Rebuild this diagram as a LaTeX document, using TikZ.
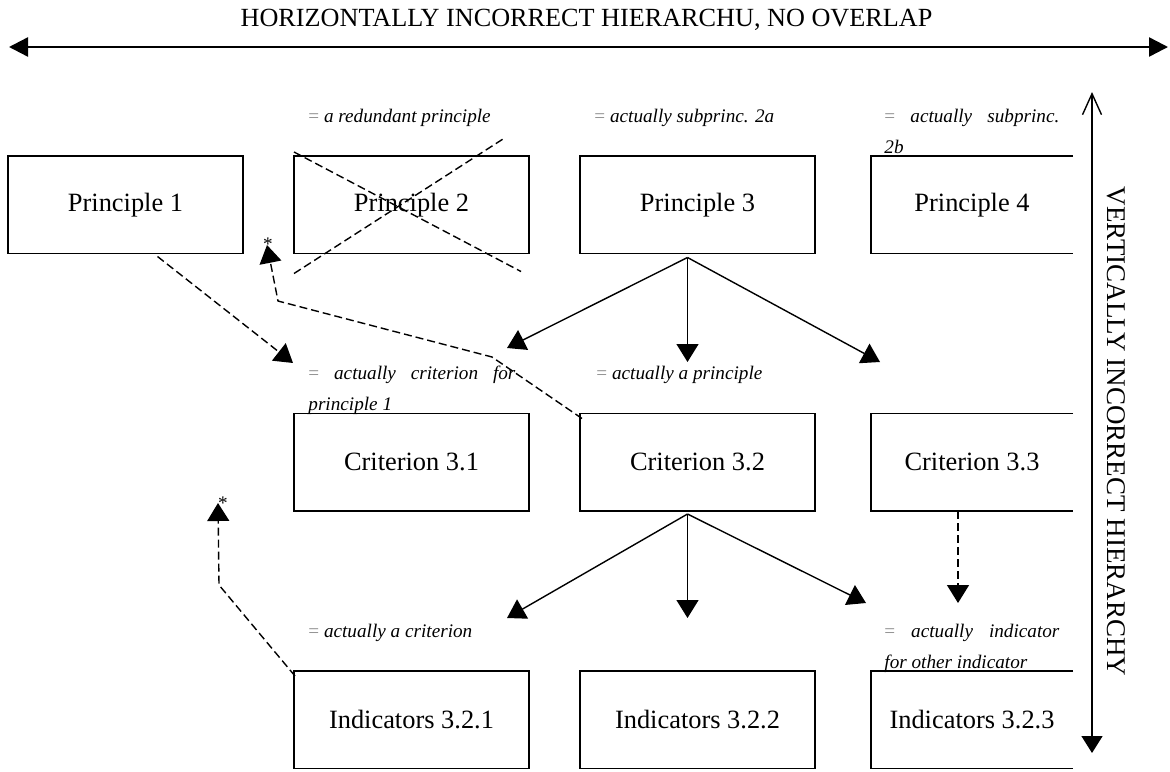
\documentclass[tikz,border=0pt]{standalone}
\usepackage{fontspec}
\setmainfont{Liberation Serif}
\usetikzlibrary{arrows.meta}
\usetikzlibrary{positioning}

\newcommand{\noteeq}{{\upshape\color{black!45}=}}

\begin{document}
\begin{tikzpicture}[x=0.5pt,y=-0.5pt,>={Triangle[length=9pt,width=11pt]},
  node distance=80pt and 25.5pt,
  box/.style={draw,line width=0.9pt,minimum width=117.5pt,minimum height=48.75pt,
    inner sep=0pt,outer sep=0pt,font=\fontsize{13.2}{15}\selectfont},
  openbox/.style={box,draw=none,minimum width=101pt},
  boxline/.style={line width=0.9pt},
  note/.style={anchor=base west,inner sep=0pt,text width=103.5pt,align=justify,
    font=\fontsize{9.6}{15.5}\selectfont\itshape,
    execute at begin node={\hyphenpenalty=10000\exhyphenpenalty=10000\tolerance=10000}},
  solidarrow/.style={->,line width=0.7pt},
  dasharrow/.style={solidarrow,dash pattern=on 4pt off 2pt},
  crossline/.style={line width=0.7pt,dash pattern=on 4pt off 2pt},
  starlabel/.style={anchor=base,inner sep=0pt,font=\fontsize{9.6}{10}\selectfont}]

  \useasboundingbox (0,0) rectangle (1170,771);

  % boxes
  \node[box] (p1) at (125.5,204.75) {Principle 1};
  \node[box] (p2) [right=of p1] {Principle 2};
  \node[box] (p3) [right=of p2] {Principle 3};
  \node[openbox] (p4) [right=28pt of p3] {Principle 4};
  \node[box] (c31) [below=of p2] {Criterion 3.1};
  \node[box] (c32) [below=of p3] {Criterion 3.2};
  \node[openbox] (c33) [right=28pt of c32] {Criterion 3.3};
  \node[box] (i321) [below=of c31] {Indicators 3.2.1};
  \node[box] (i322) [below=of c32] {Indicators 3.2.2};
  \node[openbox] (i323) [right=28pt of i322] {Indicators 3.2.3};

  \draw[boxline] (p4.north east) -- (p4.north west) -- (p4.south west) -- (p4.south east);
  \draw[boxline] (c33.north east) -- (c33.north west) -- (c33.south west) -- (c33.south east);
  \draw[boxline] (i323.north east) -- (i323.north west) -- (i323.south west) -- (i323.south east);

  % notes
  \node[note] (n2) at ([shift={(14,-34)}]p2.north west) {\noteeq{} a redundant principle};
  \node[note] (n3) at ([shift={(14,-34)}]p3.north west) {\noteeq{} actually subprinc. 2a};
  \node[note,text width=87.5pt] (n4) at ([shift={(13,-34)}]p4.north west) {\noteeq{} actually subprinc. 2b};
  \node[note] (n31) at ([shift={(14,-34)}]c31.north west) {\noteeq{} actually criterion for principle 1};
  \node[note] (n32) at ([shift={(16,-34)}]c32.north west) {\noteeq{} actually a principle};
  \node[note] (n321) at ([shift={(14,-34)}]i321.north west) {\noteeq{} actually a criterion};
  \node[note,text width=87.5pt] (n323) at ([shift={(13,-34)}]i323.north west) {\noteeq{} actually indicator for other indicator};

  % principle 2 crossed out
  \draw[crossline] ([yshift=2pt]p2.north west) -- ([shift={(-8,18)}]p2.south east);
  \draw[crossline] ([yshift=-10pt]p2.south west) -- ([shift={(-26,-17)}]p2.north east);

  % arrow ends
  \coordinate (p3o) at ([shift={(-10,4)}]p3.south);
  \coordinate (c32o) at ([shift={(-10,3)}]c32.south);
  \coordinate (t1) at (507,348);
  \coordinate (t2) at (687.5,362);
  \coordinate (t3) at (880,362);
  \coordinate (t4) at (507,618);
  \coordinate (t5) at (687.5,618);
  \coordinate (t6) at (866,603);
  \coordinate (t7) at (958,603);
  \coordinate (t8) at (293,363);
  \coordinate (s1) at (267,245);
  \coordinate (s2) at (218,503);

  \path[solidarrow]
    (p3o) edge (t1)
          edge (t2)
          edge (t3)
    (c32o) edge (t4)
           edge (t5)
           edge (t6);

  \draw[dasharrow] ([shift={(32,3)}]p1.south) -- (t8);
  \draw[dasharrow] ([shift={(2,5)}]c32.north west) -- (492,357) -- (278,301) -- (s1);
  \draw[dasharrow] ([shift={(1,5)}]i321.north west) -- (219,585) -- (s2);
  \draw[dasharrow] ([xshift=-7pt]c33.south) -- (t7);

  \node[starlabel] (a1) at ([shift={(1,5)}]s1) {*};
  \node[starlabel] (a2) at ([shift={(5,6)}]s2) {*};

  % hierarchy axes
  \coordinate (hl) at (9,47);
  \coordinate (hr) at (1168,47);
  \draw[{Triangle[length=9.5pt,width=9.5pt]}-{Triangle[length=9.5pt,width=9.5pt]},line width=1.2pt] (hl) -- (hr);
  \node[font=\fontsize{13.1}{15}\selectfont] (htitle) at (586.5,20) {HORIZONTALLY INCORRECT HIERARCHU, NO OVERLAP};

  \coordinate (vt) at (1092,92);
  \coordinate (vb) at (1092,753);
  \draw[{Straight Barb[length=10.5pt,width=9.5pt]}-{Triangle[length=8.5pt,width=10.5pt]},line width=0.7pt] (vt) -- (vb);
  \node[rotate=-90,font=\fontsize{13.5}{15}\selectfont] (vtitle) at (1116,431.5) {VERTICALLY INCORRECT HIERARCHY};
\end{tikzpicture}
\end{document}
